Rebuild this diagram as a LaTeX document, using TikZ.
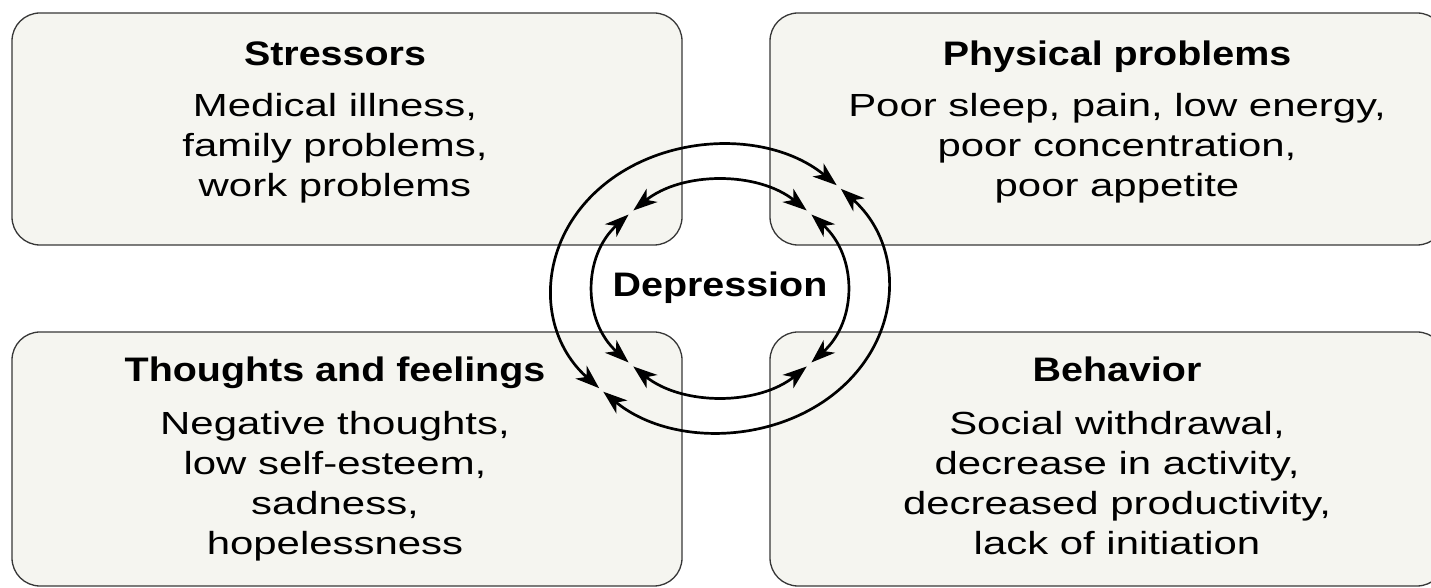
\documentclass[tikz,border=0pt]{standalone}
\usepackage{fontspec}
\setmainfont{Liberation Sans}
\newfontfamily\bodyfont[FakeStretch=1.31]{Liberation Sans}
\newfontfamily\headfont[FakeStretch=1.16]{Liberation Sans Bold}
\usetikzlibrary{arrows.meta}
\definecolor{boxfill}{RGB}{245,245,240}
\definecolor{boxline}{RGB}{55,55,55}
\tikzset{
  panel/.style={draw=boxline, line width=1.3pt, fill=boxfill, rounded corners=28pt},
  headtxt/.style={anchor=base, inner sep=0pt, font=\headfont\fontsize{34}{40}\selectfont},
  bodytxt/.style={anchor=base, inner sep=0pt, align=center, font=\bodyfont\fontsize{32}{40}\selectfont},
  cyc/.style={line width=2.7pt, {Stealth[length=24pt,width=17pt,inset=7pt]}-{Stealth[length=24pt,width=17pt,inset=7pt]}}
}
\begin{document}
\begin{tikzpicture}[x=1pt,y=1pt]
\useasboundingbox (0,0) rectangle (1431,588);
\clip (0,0) rectangle (1431,588);
% panels
\draw[panel] (12,343) rectangle (682,575);
\draw[panel] (770,343) rectangle (1445,575);
\draw[panel] (12,2) rectangle (682,256);
\draw[panel] (770,2) rectangle (1445,256);
% texts (base anchor = baseline of last line)
\node[headtxt] (sth) at (335,522) {Stressors};
\node[bodytxt] (stb) at (335,391) {Medical illness,\\family problems,\\work problems};
\node[headtxt] (phh) at (1117,522) {Physical problems};
\node[bodytxt] (phb) at (1117,391) {Poor sleep, pain, low energy,\\poor concentration,\\poor appetite};
\node[headtxt] (thh) at (335,206) {Thoughts and feelings};
\node[bodytxt] (thb) at (335,33) {Negative thoughts,\\low self-esteem,\\sadness,\\hopelessness};
\node[headtxt] (beh) at (1117,206) {Behavior};
\node[bodytxt] (beb) at (1117,33) {Social withdrawal,\\decrease in activity,\\decreased productivity,\\lack of initiation};
\node[headtxt] (dep) at (720,291) {Depression};
% cycle arrows
\coordinate (c) at (720,299.5);
\draw[cyc] ([shift={(46:168pt and 143.5pt)}]c) arc[start angle=46,end angle=224,x radius=168pt,y radius=143.5pt];
\draw[cyc] ([shift={(226:168pt and 143.5pt)}]c) arc[start angle=226,end angle=404,x radius=168pt,y radius=143.5pt];
\draw[cyc] ([shift={(46.5:126pt and 107.5pt)}]c) arc[start angle=46.5,end angle=133.5,x radius=126pt,y radius=107.5pt];
\draw[cyc] ([shift={(136.5:126pt and 107.5pt)}]c) arc[start angle=136.5,end angle=223.5,x radius=126pt,y radius=107.5pt];
\draw[cyc] ([shift={(226.5:126pt and 107.5pt)}]c) arc[start angle=226.5,end angle=313.5,x radius=126pt,y radius=107.5pt];
\draw[cyc] ([shift={(316.5:126pt and 107.5pt)}]c) arc[start angle=316.5,end angle=403.5,x radius=126pt,y radius=107.5pt];
\end{tikzpicture}
\end{document}
